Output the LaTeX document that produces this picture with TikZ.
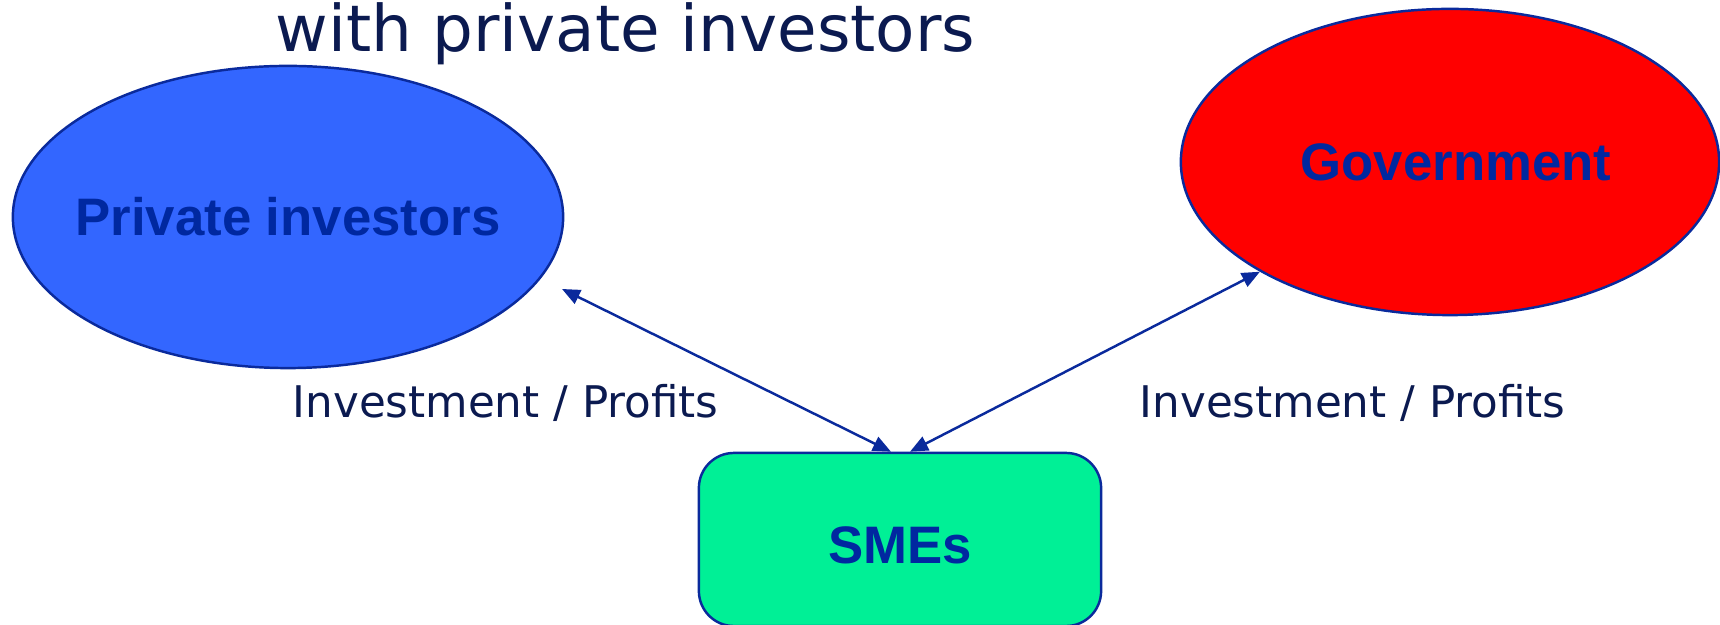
\documentclass[tikz,border=0pt]{standalone}
\usepackage{fontspec}
\setmainfont{Liberation Sans}
\newfontfamily\labelfont{DejaVu Sans}
\usetikzlibrary{shapes.geometric,arrows.meta}
\definecolor{navy}{HTML}{0B1A50}
\definecolor{edgeblue}{HTML}{0A2A9C}
\definecolor{nodetext}{HTML}{0028A0}
\definecolor{investorblue}{HTML}{3366FF}
\definecolor{govred}{HTML}{FF0000}
\definecolor{smegreen}{HTML}{00F096}
\begin{document}
\begin{tikzpicture}[x=0.01cm,y=-0.01cm,
  party/.style={ellipse, draw=edgeblue, line width=0.7pt, inner sep=0pt,
    font=\fontsize{15}{18}\selectfont\bfseries, text=nodetext},
  firm/.style={rectangle, rounded corners=0.35cm, draw=edgeblue, line width=0.7pt,
    fill=smegreen, inner sep=0pt, text height=13.6pt, text depth=0pt,
    font=\fontsize{15}{18}\selectfont\bfseries, text=nodetext},
  flow/.style={draw=edgeblue, line width=0.7pt,
    {Triangle[length=1.8mm,width=1.5mm]}-{Triangle[length=1.8mm,width=1.5mm]}},
  caption/.style={font=\labelfont\fontsize{12.4}{15}\selectfont, text=navy,
    inner sep=0pt, anchor=base west},
  heading/.style={font=\labelfont\fontsize{18.3}{22}\selectfont, text=navy,
    inner sep=0pt, anchor=base west}]
\useasboundingbox (0,0) rectangle (1720,625);

% title line
\node[heading] (title) at (275,52) {with private investors};

% the three parties (labels in zero-width boxes so the ellipses keep their size)
\node[party, fill=investorblue, minimum width=5.5cm, minimum height=3.02cm]
  (inv) at (288,217) {\makebox[0pt]{Private investors}};
\node[party, fill=govred, minimum width=5.38cm, minimum height=3.06cm]
  (gov) at (1450,162) {\makebox[0pt]{\hspace*{0.12cm}Government}};
\node[firm, minimum width=4.02cm, minimum height=1.73cm]
  (sme) at (900,539.5) {SMEs};

% flow end points
\coordinate (invtip) at (562,289);
\coordinate (smeL) at ([xshift=-0.09cm]sme.north);
\coordinate (smeR) at ([xshift=0.1cm]sme.north);

% investment / profit flows
\draw[flow] (invtip) -- (smeL);
\draw[flow] (smeR) -- (gov.210);

% flow captions
\node[caption] (capL) at (292,418) {Investment / Profits};
\node[caption] (capR) at (1139,418) {Investment / Profits};
\end{tikzpicture}
\end{document}
